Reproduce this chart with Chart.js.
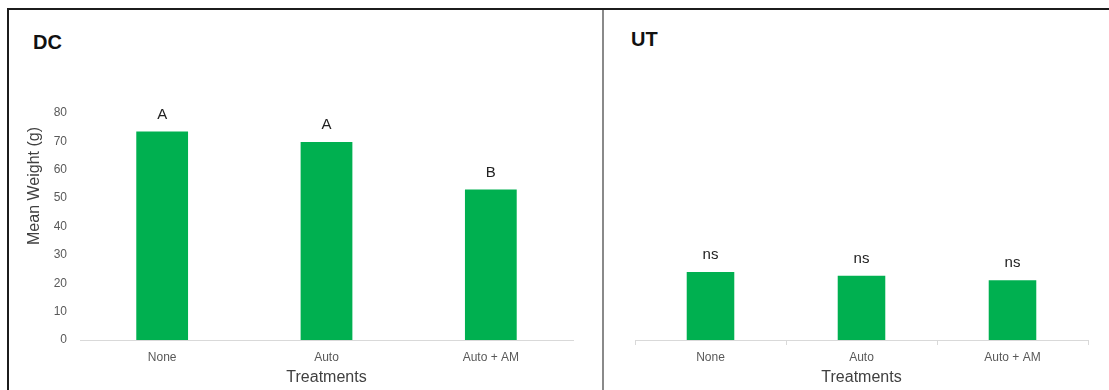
<!DOCTYPE html>
<html>
<head>
<meta charset="utf-8">
<script src="https://cdn.jsdelivr.net/npm/chart.js@4/dist/chart.umd.min.js"></script>
<style>
    body {
        margin: 0;
        background: #fff;
        font-family: "Liberation Sans", Arial, sans-serif;
    }
    #frame {
        position: absolute;
        left: 7px;
        top: 8px;
        width: 1102px;
        height: 382px;
        border-top: 2px solid #1c1c1c;
        border-left: 2px solid #1c1c1c;
    }
    #divider {
        position: absolute;
        left: 602px;
        top: 10px;
        width: 2px;
        height: 380px;
        background: #8a8a8a;
    }
    .panel {
        position: absolute;
        top: 10px;
    }
    .panel-name {
        position: absolute;
        font-weight: bold;
        font-size: 20px;
        line-height: 20px;
        color: #111;
    }
</style>
</head>
<body>
<div id="frame"></div>
<div id="divider"></div>
<div class="panel-name" style="left:33px; top:32px;">DC</div>
<div class="panel-name" style="left:631px; top:29px;">UT</div>
<div class="panel" style="left:9px;"><canvas id="dcChart" width="593" height="380"></canvas></div>
<div class="panel" style="left:605px;"><canvas id="utChart" width="504" height="380"></canvas></div>

<script>
const treatments = ["None", "Auto", "Auto + AM"];

const dcWeights = [73.5, 69.8, 53.0];
const dcLetters = ["A", "A", "B"];

const utWeights = [24.0, 22.6, 21.1];
const utLetters = ["ns", "ns", "ns"];

const yTicks = [0, 10, 20, 30, 40, 50, 60, 70, 80];

const BAR_GREEN = "#00b050";

Chart.defaults.font.family = "'Liberation Sans', Arial, sans-serif";
Chart.defaults.animation = false;

// letters over each bar, taken from the bar's own position
const letterPlugin = {
    id: "letters",
    afterDatasetsDraw(chart) {
        const ctx = chart.ctx;
        const letters = chart.options.plugins.letters.labels;
        const bars = chart.getDatasetMeta(0).data;
        ctx.save();
        ctx.font = "15px 'Liberation Sans', Arial, sans-serif";
        ctx.fillStyle = "#222";
        ctx.textAlign = "center";
        ctx.textBaseline = "middle";
        bars.forEach((bar, i) => {
            ctx.fillText(letters[i], bar.x, bar.y - 17);
        });
        ctx.restore();
    }
};

// y title sits a bit above the middle of the axis
const yTitlePlugin = {
    id: "yTitle",
    afterDraw(chart) {
        const opts = chart.options.plugins.yTitle;
        if (!opts || !opts.text) return;
        const area = chart.chartArea;
        const ctx = chart.ctx;
        ctx.save();
        ctx.translate(26, area.top + 73);
        ctx.rotate(-Math.PI / 2);
        ctx.font = "16px 'Liberation Sans', Arial, sans-serif";
        ctx.fillStyle = "#404040";
        ctx.textAlign = "center";
        ctx.textBaseline = "middle";
        ctx.fillText(opts.text, 0, 0);
        ctx.restore();
    }
};

function makeChart(canvasId, values, letters, showY, padLeft, padRight, yWidth) {
    const ctx = document.getElementById(canvasId).getContext("2d");

    return new Chart(ctx, {
        type: "bar",
        data: {
            labels: treatments,
            datasets: [{
                data: values,
                backgroundColor: BAR_GREEN,
                borderWidth: 0,
                categoryPercentage: 1,
                barPercentage: 0.315
            }]
        },
        options: {
            responsive: false,
            layout: {
                padding: { top: 103, right: padRight, left: padLeft, bottom: 0 }
            },
            scales: {
                x: {
                    afterFit(scale) { scale.height = 50; },
                    grid: {
                        display: !showY,
                        drawOnChartArea: false,
                        drawTicks: !showY,
                        tickLength: 5,
                        color: "#d9d9d9",
                        offset: true
                    },
                    border: { display: true, color: "#d9d9d9", width: 1 },
                    ticks: {
                        color: "#595959",
                        font: { size: 12 },
                        padding: showY ? 10 : 5,
                        maxRotation: 0
                    },
                    title: {
                        display: true,
                        text: "Treatments",
                        color: "#404040",
                        font: { size: 16 },
                        padding: { top: 0, bottom: 3 }
                    }
                },
                y: {
                    display: showY,
                    min: yTicks[0],
                    max: yTicks[yTicks.length - 1],
                    afterFit(scale) { scale.width = yWidth; },
                    afterBuildTicks(scale) {
                        scale.ticks = yTicks.map(v => ({ value: v }));
                    },
                    grid: { display: false, drawTicks: false },
                    border: { display: false },
                    ticks: {
                        color: "#595959",
                        font: { size: 12 },
                        padding: 13
                    }
                }
            },
            plugins: {
                legend: { display: false },
                tooltip: { enabled: false },
                letters: { labels: letters },
                yTitle: { text: showY ? "Mean Weight (g)" : "" }
            }
        },
        plugins: [letterPlugin, yTitlePlugin]
    });
}

makeChart("dcChart", dcWeights, dcLetters, true, 0, 29, 71);
makeChart("utChart", utWeights, utLetters, false, 30, 21, 0);
</script>
</body>
</html>
